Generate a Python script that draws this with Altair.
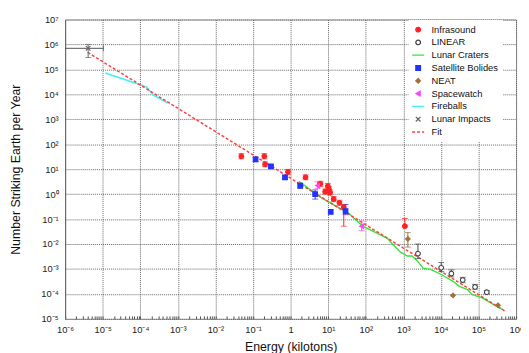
import altair as alt
import pandas as pd

FONT = "Liberation Sans"

SERIES = ["Infrasound", "LINEAR", "Lunar Craters", "Satellite Bolides", "NEAT",
          "Spacewatch", "Fireballs", "Lunar Impacts", "Fit"]

# ---- point series (energy kt, number per year, error low/high) ----
inf_E = [0.049, 0.2, 0.21, 0.85, 2.5, 6.2, 8.3, 9.8, 10.5, 11.2, 14, 20, 26, 1100]
inf_N = [33, 33, 15.6, 7.8, 4.7, 2.6, 1.26, 2.1, 1.6, 1.15, 0.63, 0.45, 0.30, 0.052]
inf_lo = [26, 26, 12.5, 6.2, 3.8, 2.0, 1.0, 1.65, 1.3, 0.92, 0.5, 0.36, 0.052, 0.052]
inf_hi = [42, 42, 19.5, 9.8, 5.9, 3.3, 1.6, 2.7, 2.0, 1.45, 0.8, 0.57, 0.38, 0.105]

sat_E = [0.117, 0.30, 0.71, 1.8, 4.5, 11.7, 29]
sat_N = [24.5, 13, 4.7, 2.2, 1.0, 0.195, 0.21]
sat_lo = [20, 11, 3.9, 1.7, 0.63, 0.195, 0.15]
sat_hi = [30, 15.5, 5.6, 2.7, 1.48, 0.195, 0.38]

spw_E = [5.2, 78]
spw_N = [2.2, 0.052]
spw_lo = [1.7, 0.034]
spw_hi = [3.1, 0.083]

neat_E = [1320, 21000, 330000]
neat_N = [0.016, 8.7e-5, 3.5e-5]
neat_lo = [0.0075, 8.7e-5, 3.5e-5]
neat_hi = [0.029, 8.7e-5, 3.5e-5]

lin_E = [2450, 10200, 19000, 38000, 81000, 166000]
lin_N = [0.0041, 0.00112, 0.00065, 0.00036, 0.00019, 0.000117]
lin_lo = [0.0026, 0.00078, 0.00048, 0.00028, 0.000155, 0.0001]
lin_hi = [0.01, 0.0018, 0.00092, 0.00046, 0.00024, 0.000135]

imp_E = [4.1e-6]
imp_N = [7.0e5]
imp_lo = [3.0e5]
imp_hi = [1.0e6]
imp_Elo = [1.0e-6]
imp_Ehi = [1.05e-5]

# ---- line series ----
crat_E = [1.66, 6.8, 34, 83, 370, 560, 830, 1260, 1700, 2300, 3400, 5100, 10200,
          21000, 31000, 51000, 69000, 126000, 234000, 427000]
crat_N = [3.3, 0.69, 0.178, 0.052, 0.0174, 0.0087, 0.0048, 0.0033, 0.0033, 0.0022,
          0.00105, 0.00098, 0.0006, 0.00032, 0.0002, 0.000148, 0.000093, 0.000069,
          0.00004, 0.000024]

fb_E = [1.17e-5, 8.7e-5, 1.45e-4, 2.2e-4, 5.4e-4]
fb_N = [71000, 25700, 20000, 9500, 4500]

fit_E = [4.0e-6, 5.5e5]
fit_N = [4.8e5, 1.9e-5]

# ---- styles ----
STROKE = {"Infrasound": "#ff2222", "LINEAR": "#444444", "Lunar Craters": "#33e633",
          "Satellite Bolides": "#2233ff", "NEAT": "#a0703a", "Spacewatch": "#ff44ff",
          "Fireballs": "#44f0f0", "Lunar Impacts": "#666666", "Fit": "#ff4040"}
FILL = {"Infrasound": "#ff2222", "LINEAR": "white", "Lunar Craters": "transparent",
        "Satellite Bolides": "#2233ff", "NEAT": "#a0703a", "Spacewatch": "#ff44ff",
        "Fireballs": "transparent", "Lunar Impacts": "transparent", "Fit": "transparent"}
LINE_PATH = "M-2.6,0H2.6"
SHAPE = {"Infrasound": "circle", "LINEAR": "circle", "Lunar Craters": LINE_PATH,
         "Satellite Bolides": "square", "NEAT": "diamond", "Spacewatch": "triangle-left",
         "Fireballs": LINE_PATH, "Lunar Impacts": "M-1,-1L1,1M1,-1L-1,1", "Fit": LINE_PATH}
DASH = {s: [1, 0] for s in SERIES}
DASH["Fit"] = [3, 2]

rows = []
def add(name, E, N, lo, hi):
    for e, n, l, h in zip(E, N, lo, hi):
        rows.append({"series": name, "E": e, "N": n, "lo": l, "hi": h, "ecol": STROKE[name]})

add("Infrasound", inf_E, inf_N, inf_lo, inf_hi)
add("Satellite Bolides", sat_E, sat_N, sat_lo, sat_hi)
add("Spacewatch", spw_E, spw_N, spw_lo, spw_hi)
add("NEAT", neat_E, neat_N, neat_lo, neat_hi)
add("LINEAR", lin_E, lin_N, lin_lo, lin_hi)
add("Lunar Impacts", imp_E, imp_N, imp_lo, imp_hi)
pts = pd.DataFrame(rows)
err = pts[pts["lo"] < pts["hi"]]

imp_df = pd.DataFrame({"Elo": imp_Elo, "Ehi": imp_Ehi, "N": imp_N})
crat_df = pd.DataFrame({"E": crat_E, "N": crat_N})
fb_df = pd.DataFrame({"E": fb_E, "N": fb_N})
fit_df = pd.DataFrame({"E": fit_E, "N": fit_N})

# ---- axes ----
SUP = str.maketrans("-0123456789", "⁻⁰¹²³⁴⁵⁶⁷⁸⁹")
def lab(k):
    if k == 0:
        return "1"
    return "10" + str(k).translate(SUP)

x_labels = [lab(k) for k in range(-6, 7)]
y_labels = ["10" + str(k).translate(SUP) for k in range(-5, 8)]

L = "(log(datum.value)/LN10)"
MAJOR = f"abs({L} - round({L})) < 0.001"
x_arr = "[" + ",".join(f"'{s}'" for s in x_labels) + "]"
y_arr = "[" + ",".join(f"'{s}'" for s in y_labels) + "]"

x_vals = [m * 10.0 ** k for k in range(-6, 6) for m in range(1, 10)] + [1e6]
y_vals = [10.0 ** k for k in range(-5, 8)]

xaxis = alt.Axis(
    title="Energy (kilotons)", values=x_vals,
    labelExpr=f"({MAJOR}) ? {x_arr}[round({L})+6] : ''",
    labelOverlap=False, labelFlush=False, labelFont=FONT, labelFontSize=9.5,
    labelColor="#222", labelPadding=6,
    grid=True, gridDash=[1, 1], gridColor="#666", gridWidth=1,
    gridOpacity={"condition": {"test": MAJOR, "value": 1}, "value": 0},
    ticks=True, tickSize=3, tickColor="#555", domain=False, offset=-3,
    titleFont=FONT, titleFontSize=12.5, titleFontWeight="normal", titleColor="#111",
    titleY=25, titleBaseline="top",
)
yaxis = alt.Axis(
    title="Number Striking Earth per Year", values=y_vals,
    labelExpr=f"{y_arr}[round({L})+5]",
    labelOverlap=False, labelFlush=False, labelFont=FONT, labelFontSize=9.5,
    labelColor="#222", labelPadding=7,
    grid=True, gridDash=[1, 1], gridColor="#666", gridWidth=1,
    ticks=False, domain=True, domainColor="#666",
    titleFont=FONT, titleFontSize=12.5, titleFontWeight="normal", titleColor="#111",
    titleX=-50, titleY=152, titleBaseline="middle",
)

xscale = alt.Scale(type="log", domain=[1e-6, 1e6], nice=False)
yscale = alt.Scale(type="log", domain=[1e-5, 1e7], nice=False)

X = alt.X("E:Q", scale=xscale, axis=xaxis)
Y = alt.Y("N:Q", scale=yscale, axis=yaxis)

legend = alt.Legend(
    title=None, orient="none", legendX=348.8, legendY=0.5, padding=5,
    fillColor="white", labelFont=FONT, labelFontSize=9.5, labelColor="#111",
    labelOffset=8.8, symbolSize=22, rowPadding=2, symbolStrokeWidth=1.3,
)

def sc(d):
    return alt.Scale(domain=SERIES, range=[d[s] for s in SERIES])

# ---- layers ----
fit_line = alt.Chart(fit_df).mark_line(color=STROKE["Fit"], strokeWidth=1.5,
                                       strokeDash=[3, 2]).encode(x=X, y=Y)
crat_line = alt.Chart(crat_df).mark_line(color=STROKE["Lunar Craters"],
                                         strokeWidth=1.4).encode(x=X, y=Y)
fb_line = alt.Chart(fb_df).mark_line(color=STROKE["Fireballs"],
                                     strokeWidth=1.6).encode(x=X, y=Y)

ebar = alt.Chart(err).mark_rule(strokeWidth=1).encode(
    x=X, y=alt.Y("lo:Q", scale=yscale, axis=yaxis), y2="hi:Q",
    color=alt.Color("ecol:N", scale=None))
cap_lo = alt.Chart(err).mark_tick(orient="horizontal", size=6, thickness=1).encode(
    x=X, y=alt.Y("lo:Q", scale=yscale, axis=yaxis),
    color=alt.Color("ecol:N", scale=None))
cap_hi = alt.Chart(err).mark_tick(orient="horizontal", size=6, thickness=1).encode(
    x=X, y=alt.Y("hi:Q", scale=yscale, axis=yaxis),
    color=alt.Color("ecol:N", scale=None))

hbar = alt.Chart(imp_df).mark_rule(color="#555", strokeWidth=1).encode(
    x=alt.X("Elo:Q", scale=xscale, axis=xaxis), x2="Ehi:Q", y=Y)
hcap = alt.Chart(imp_df).mark_tick(orient="vertical", size=6, thickness=1,
                                   color="#555").encode(
    x=alt.X("Ehi:Q", scale=xscale, axis=xaxis), y=Y)

points = alt.Chart(pts).mark_point(size=22, opacity=1, strokeWidth=1.1).encode(
    x=X, y=Y,
    shape=alt.Shape("series:N", scale=sc(SHAPE), legend=legend),
    fill=alt.Fill("series:N", scale=sc(FILL), legend=legend),
    stroke=alt.Stroke("series:N", scale=sc(STROKE), legend=legend),
    strokeDash=alt.StrokeDash("series:N", scale=sc(DASH), legend=legend),
)

chart = alt.layer(
    fb_line, crat_line, fit_line, hbar, hcap, ebar, cap_lo, cap_hi, points
).properties(
    width=458, height=304,
    autosize=alt.AutoSizeParams(type="none"),
    padding={"left": 58, "top": 9, "right": 5, "bottom": 32},
    background="white",
).configure_view(stroke="#999", strokeWidth=1)

chart.save("out.html", embed_options={"renderer": "svg", "actions": False})
